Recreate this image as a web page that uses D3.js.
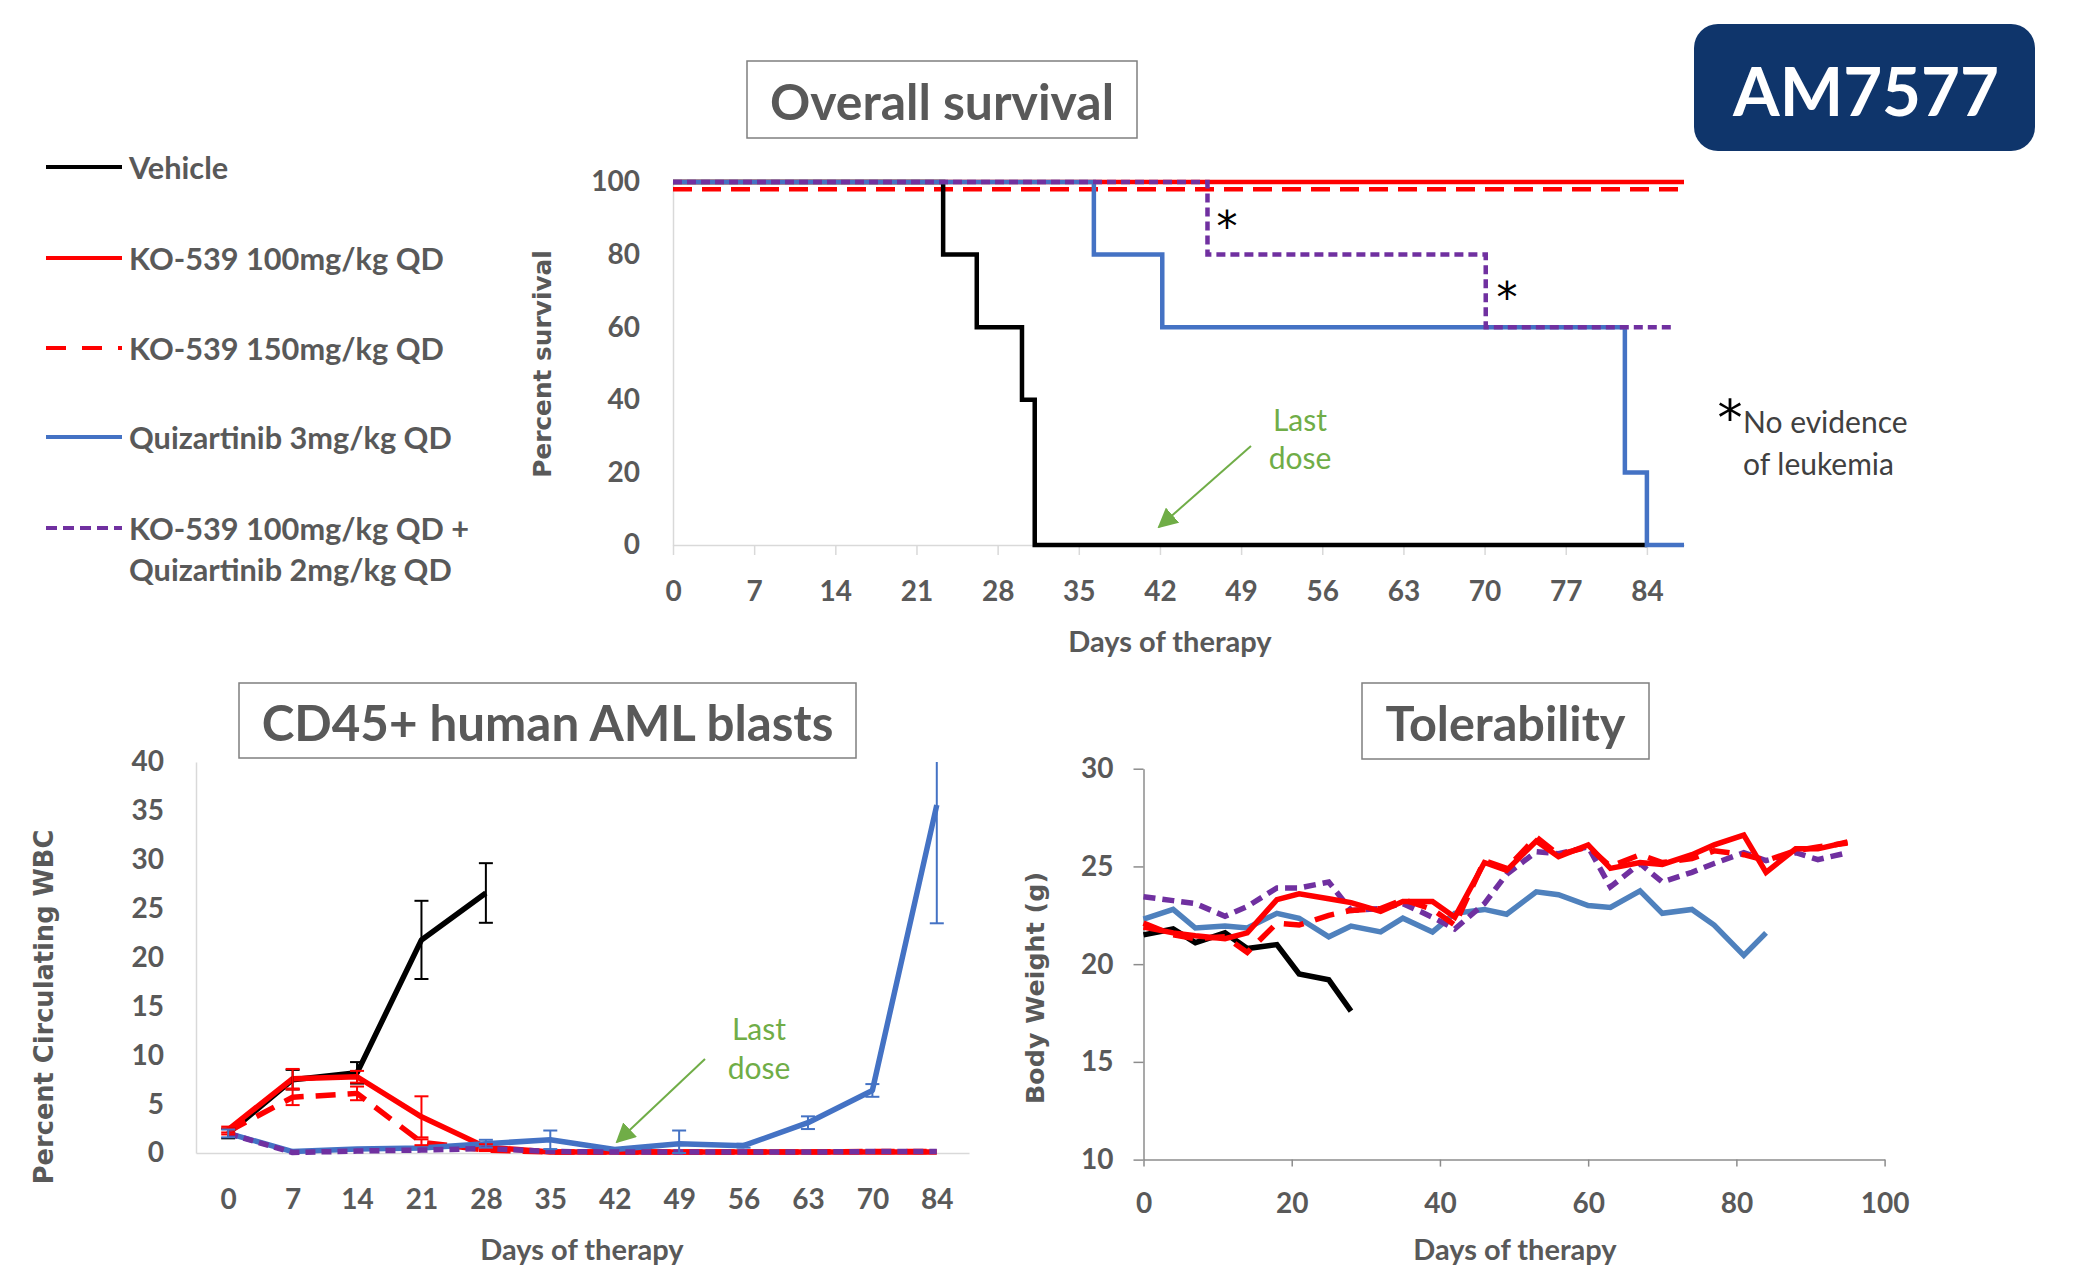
<!DOCTYPE html>
<html lang="en">
<head>
<meta charset="utf-8">
<title>AM7577</title>
<script src="https://cdn.jsdelivr.net/npm/d3@7"></script>
<style>
  body { margin: 0; background: #fff; }
  svg text { font-family: Lato, "Open Sans", sans-serif; fill: #595959; }
  .axis path, .axis line { fill: none; stroke: #d9d9d9; stroke-width: 1.5; }
  .axis.dark path, .axis.dark line { stroke: #8c8c8c; }
  .axis text { font-family: Lato, sans-serif; font-size: 28px; font-weight: bold; fill: #595959; }
  .ylab { font-family: "DejaVu Sans", sans-serif; font-weight: bold; }
  .xlab { font-weight: bold; }
  .title { font-weight: bold; }
  .green { fill: #70ad47; }
  .star { font-family: "DejaVu Sans", sans-serif; fill: #000; }
</style>
</head>
<body>
<script>
var W = 2078, H = 1266;

// series (shared legend)
var seriesNames = ["Vehicle", "KO-539 100mg/kg QD", "KO-539 150mg/kg QD",
                   "Quizartinib 3mg/kg QD", "KO-539 100mg/kg QD +"];
var comboLine2 = "Quizartinib 2mg/kg QD";
var colors = ["#000000", "#ff0000", "#ff0000", "#4472c4", "#7030a0"];

// ---- Overall survival: day of each step and % surviving after it
var survDaysVehicle = [0, 23.3, 26.2, 30.1, 31.2, 84];
var survVehicle     = [100, 80, 60, 40, 0, 0];
var survDaysKO100   = [0, 87.2];
var survKO100       = [100, 100];
var survDaysKO150   = [0, 87.2];
var survKO150       = [98, 98];
var survDaysQuiz    = [0, 36.3, 42.2, 82.1, 84, 87.2];
var survQuiz        = [100, 80, 60, 20, 0, 0];
var survDaysCombo   = [0, 46.1, 70.1, 86.3];
var survCombo       = [100, 80, 60, 60];
var survXTicks = [0, 7, 14, 21, 28, 35, 42, 49, 56, 63, 70, 77, 84];
var survYTicks = [0, 20, 40, 60, 80, 100];

// ---- CD45+ human AML blasts (% circulating WBC), mean and error
var cd45Days = ["0", "7", "14", "21", "28", "35", "42", "49", "56", "63", "70", "84"];
var cd45Vehicle    = [2.0, 7.5, 8.2, 21.8, 26.6];
var cd45VehicleErr = [0.5, 1.0, 1.1, 4.0, 3.05];
var cd45KO100      = [2.4, 7.6, 7.8, 3.7, 0.6, 0.1, 0.1, 0.1, 0.1, 0.1, 0.1, 0.1];
var cd45KO100Err   = [0.3, 1.0, 0.6, 2.1, 0.3, 0, 0, 0, 0, 0, 0, 0];
var cd45KO150      = [2.2, 5.7, 6.1, 1.1, 0.3, 0.1, 0.1, 0.1, 0.1, 0.1, 0.15, 0.15];
var cd45KO150Err   = [0.3, 0.8, 0.7, 0.3, 0.1, 0, 0, 0, 0, 0, 0, 0];
var cd45Quiz       = [2.0, 0.15, 0.4, 0.5, 0.95, 1.35, 0.35, 0.95, 0.75, 3.1, 6.4, 35.6];
var cd45QuizErr    = [0.4, 0, 0, 0, 0.4, 0.95, 0, 1.35, 0.2, 0.65, 0.65, 12.1];
var cd45Combo      = [2.0, 0.05, 0.2, 0.3, 0.45, 0.15, 0.1, 0.1, 0.1, 0.1, 0.15, 0.15];
var cd45ComboErr   = [0, 0, 0, 0, 0, 0, 0, 0, 0, 0, 0, 0];
var cd45YTicks = [0, 5, 10, 15, 20, 25, 30, 35, 40];

// ---- Tolerability: body weight (g)
var tolDays = [0, 4, 7, 11, 14, 18, 21, 25, 28, 32, 35, 39, 42, 46, 49, 53, 56, 60, 63, 67, 70, 74, 77, 81, 84, 88, 91, 95];
var tolVehicle = [21.5, 21.8, 21.1, 21.6, 20.8, 21.0, 19.5, 19.2, 17.6];
var tolKO100 = [21.9, 21.6, 21.45, 21.3, 21.6, 23.3, 23.6, 23.35, 23.15, 22.7, 23.2, 23.2, 22.4, 25.2,
                24.8, 26.3, 25.5, 26.1, 24.9, 25.2, 25.1, 25.6, 26.1, 26.6, 24.7, 25.9, 25.9, 26.25];
var tolKO150 = [22.1, 21.5, 21.3, 21.4, 20.6, 22.1, 22.0, 22.5, 22.75, 22.85, 23.3, 22.8, 22.0, 25.3,
                24.9, 26.5, 25.6, 26.0, 25.0, 25.6, 25.2, 25.4, 25.8, 25.6, 25.3, 25.8, 26.0, 26.2];
var tolQuiz = [22.3, 22.8, 21.85, 21.95, 21.85, 22.6, 22.35, 21.4, 21.95, 21.65, 22.35, 21.65, 22.6, 22.8,
               22.55, 23.7, 23.55, 23.0, 22.9, 23.75, 22.6, 22.8, 22.0, 20.45, 21.6];
var tolCombo = [23.45, 23.25, 23.1, 22.45, 22.95, 23.9, 23.9, 24.2, 22.75, 22.85, 23.1, 22.4, 21.8, 23.1,
                24.6, 25.75, 25.65, 26.0, 23.95, 25.15, 24.2, 24.7, 25.15, 25.7, 25.3, 25.7, 25.35, 25.7];
var tolXTicks = [0, 20, 40, 60, 80, 100];
var tolYTicks = [10, 15, 20, 25, 30];

var svg = d3.select("body").append("svg")
    .attr("width", W).attr("height", H);
svg.append("rect").attr("width", W).attr("height", H).attr("fill", "#fff");

// scale a text's font size so it spans the given width
function fit(sel, width) {
    sel.each(function() {
        var t = d3.select(this);
        var fs = parseFloat(t.style("font-size"));
        t.style("font-size", (fs * width / this.getComputedTextLength()).toFixed(1) + "px");
    });
    return sel;
}

function titleBox(x0, y0, x1, y1, txt, tw) {
    svg.append("rect").attr("x", x0).attr("y", y0).attr("width", x1 - x0).attr("height", y1 - y0)
        .attr("fill", "#fff").attr("stroke", "#7f7f7f").attr("stroke-width", 1.5);
    var t = svg.append("text").attr("class", "title")
        .attr("x", (x0 + x1) / 2).attr("y", (y0 + y1) / 2 + 1)
        .attr("text-anchor", "middle").attr("dominant-baseline", "central")
        .style("font-size", "40px").text(txt);
    fit(t, tw);
}

function vLabel(x, y, txt, len) {
    var t = svg.append("text").attr("class", "ylab")
        .attr("transform", "translate(" + x + "," + y + ") rotate(-90)")
        .attr("text-anchor", "middle").attr("dominant-baseline", "central")
        .style("font-size", "21px").text(txt);
    fit(t, len);
}

function hLabel(x, y, txt) {
    svg.append("text").attr("class", "xlab")
        .attr("x", x).attr("y", y).attr("text-anchor", "middle").attr("dominant-baseline", "central")
        .style("font-size", "29px").text(txt);
}

function star(x, y, size) {
    svg.append("text").attr("class", "star").attr("x", x).attr("y", y)
        .attr("text-anchor", "middle").attr("dominant-baseline", "central")
        .style("font-size", size + "px").text("*");
}

var defs = svg.append("defs");
defs.append("marker").attr("id", "arr").attr("viewBox", "0 0 10 10")
    .attr("refX", 9).attr("refY", 5).attr("markerWidth", 20).attr("markerHeight", 20)
    .attr("markerUnits", "userSpaceOnUse").attr("orient", "auto")
    .append("path").attr("d", "M0,0 L10,5 L0,10 z").attr("fill", "#70ad47");

function lastDose(cx, y1, y2, ax0, ay0, ax1, ay1) {
    svg.append("text").attr("class", "green").attr("x", cx).attr("y", y1)
        .attr("text-anchor", "middle").attr("dominant-baseline", "central")
        .style("font-size", "30px").text("Last");
    svg.append("text").attr("class", "green").attr("x", cx).attr("y", y2)
        .attr("text-anchor", "middle").attr("dominant-baseline", "central")
        .style("font-size", "30px").text("dose");
    svg.append("line").attr("x1", ax0).attr("y1", ay0).attr("x2", ax1).attr("y2", ay1)
        .attr("stroke", "#70ad47").attr("stroke-width", 2)
        .attr("marker-end", "url(#arr)");
}

/////////////////////////////////////////////////
// Legend
/////////////////////////////////////////////////
var legY = [167, 258, 348, 437, 528];
var legDash = [null, null, "20,16", null, "11,6"];
seriesNames.forEach(function(name, i) {
    svg.append("line").attr("x1", 46).attr("x2", 122).attr("y1", legY[i]).attr("y2", legY[i])
        .attr("stroke", colors[i]).attr("stroke-width", 4).attr("stroke-dasharray", legDash[i]);
    svg.append("text").attr("class", "leg").attr("x", 129).attr("y", legY[i])
        .attr("dominant-baseline", "central").text(name);
});
svg.append("text").attr("class", "leg").attr("x", 129).attr("y", 569)
    .attr("dominant-baseline", "central").text(comboLine2);
svg.selectAll(".leg").style("font-size", "28px").style("font-weight", "bold");
var legRef = svg.selectAll(".leg").filter(function(d, i) { return i == 1; });
var legFs = parseFloat(legRef.style("font-size"));
svg.selectAll(".leg").style("font-size", (legFs * 315 / legRef.node().getComputedTextLength()).toFixed(1) + "px");

/////////////////////////////////////////////////
// AM7577 badge
/////////////////////////////////////////////////
svg.append("rect").attr("x", 1694).attr("y", 24).attr("width", 341).attr("height", 127)
    .attr("rx", 24).attr("fill", "#0f356b");
fit(svg.append("text").attr("x", 1866).attr("y", 90).attr("text-anchor", "middle")
    .attr("dominant-baseline", "central").style("font-size", "68px").style("font-weight", "bold")
    .style("fill", "#ffffff").text("AM7577"), 266);

/////////////////////////////////////////////////
// Overall survival
/////////////////////////////////////////////////
titleBox(747, 61, 1137, 138, "Overall survival", 344);

var sx = d3.scaleLinear().domain([0, 87.2]).range([673, 1684]);
var sy = d3.scaleLinear().domain([0, 100]).range([545, 182]);

svg.append("g").attr("class", "axis").attr("transform", "translate(0,545)")
    .call(d3.axisBottom(sx).tickValues(survXTicks).tickSize(10).tickSizeOuter(0).tickPadding(26));
svg.append("g").attr("class", "axis").attr("transform", "translate(673,0)")
    .call(d3.axisLeft(sy).tickValues(survYTicks).tickSize(0).tickPadding(33));

var stepLine = d3.line().curve(d3.curveStepAfter)
    .x(function(d) { return sx(d[0]); }).y(function(d) { return sy(d[1]); });

var survSeries = [
    { days: survDaysKO100, vals: survKO100, c: 1, dash: null },
    { days: survDaysKO150, vals: survKO150, c: 2, dash: "19,10" },
    { days: survDaysVehicle, vals: survVehicle, c: 0, dash: null },
    { days: survDaysQuiz, vals: survQuiz, c: 3, dash: null },
    { days: survDaysCombo, vals: survCombo, c: 4, dash: "9,5" }
];
survSeries.forEach(function(s) {
    svg.append("path").attr("d", stepLine(d3.zip(s.days, s.vals)))
        .attr("fill", "none").attr("stroke", colors[s.c]).attr("stroke-width", 4.5)
        .attr("stroke-dasharray", s.dash);
});

star(1227, 226, 42);
star(1507, 297, 42);

vLabel(542, 364, "Percent survival", 228);
hLabel(1170, 640, "Days of therapy");
lastDose(1300, 419, 457, 1251, 446, 1159, 527);

// footnote
star(1730, 418, 50);
svg.append("text").attr("x", 1743).attr("y", 421).attr("dominant-baseline", "central")
    .style("font-size", "30px").style("fill", "#404040").text("No evidence");
svg.append("text").attr("x", 1743).attr("y", 463).attr("dominant-baseline", "central")
    .style("font-size", "30px").style("fill", "#404040").text("of leukemia");

/////////////////////////////////////////////////
// CD45+ human AML blasts
/////////////////////////////////////////////////
titleBox(239, 683, 856, 758, "CD45+ human AML blasts", 572);

var cx = d3.scalePoint().domain(cd45Days).range([196, 969]).padding(0.5);
var cy = d3.scaleLinear().domain([0, 40]).range([1153, 762]);

svg.append("g").attr("class", "axis").attr("transform", "translate(0,1153)")
    .call(d3.axisBottom(cx).tickSize(0).tickSizeOuter(0).tickPadding(36));
svg.append("g").attr("class", "axis").attr("transform", "translate(196,0)")
    .call(d3.axisLeft(cy).tickValues(cd45YTicks).tickSize(0).tickSizeOuter(0).tickPadding(32));

var cdLine = d3.line().x(function(d) { return cx(d[0]); }).y(function(d) { return cy(d[1]); });

var cdSeries = [
    { vals: cd45Vehicle, err: cd45VehicleErr, c: 0, dash: null },
    { vals: cd45KO100, err: cd45KO100Err, c: 1, dash: null },
    { vals: cd45KO150, err: cd45KO150Err, c: 2, dash: "20,12" },
    { vals: cd45Quiz, err: cd45QuizErr, c: 3, dash: null },
    { vals: cd45Combo, err: cd45ComboErr, c: 4, dash: "10,6" }
];
cdSeries.forEach(function(s) {
    svg.append("path").attr("d", cdLine(d3.zip(cd45Days.slice(0, s.vals.length), s.vals)))
        .attr("fill", "none").attr("stroke", colors[s.c]).attr("stroke-width", 5.5)
        .attr("stroke-linejoin", "round").attr("stroke-dasharray", s.dash);
});
// error bars on top
cdSeries.forEach(function(s) {
    s.vals.forEach(function(v, i) {
        if (s.err[i] <= 0) return;
        var x = cx(cd45Days[i]);
        var top = cy(Math.min(40, v + s.err[i])), bot = cy(Math.max(0, v - s.err[i]));
        var g = svg.append("g").attr("stroke", colors[s.c]).attr("stroke-width", 2);
        g.append("line").attr("x1", x).attr("x2", x).attr("y1", top).attr("y2", bot);
        if (v + s.err[i] < 40)
            g.append("line").attr("x1", x - 7).attr("x2", x + 7).attr("y1", top).attr("y2", top);
        g.append("line").attr("x1", x - 7).attr("x2", x + 7).attr("y1", bot).attr("y2", bot);
    });
});

vLabel(44, 1007, "Percent Circulating  WBC", 355);
hLabel(582, 1248, "Days of therapy");
lastDose(759, 1028, 1067, 705, 1059, 617, 1142);

/////////////////////////////////////////////////
// Tolerability
/////////////////////////////////////////////////
titleBox(1362, 683, 1649, 759, "Tolerability", 240);

var tx = d3.scaleLinear().domain([0, 100]).range([1143.5, 1884.6]);
var ty = d3.scaleLinear().domain([10, 30]).range([1159.6, 768.7]);

svg.append("g").attr("class", "axis dark").attr("transform", "translate(0,1159.6)")
    .call(d3.axisBottom(tx).tickValues(tolXTicks).tickSize(7).tickSizeOuter(0).tickPadding(27));
svg.append("g").attr("class", "axis dark").attr("transform", "translate(1143.5,0)")
    .call(d3.axisLeft(ty).tickValues(tolYTicks).tickSize(10).tickSizeOuter(0).tickPadding(20));

var tLine = d3.line().x(function(d) { return tx(d[0]); }).y(function(d) { return ty(d[1]); });

var tolSeries = [
    { vals: tolVehicle, c: "#000000", dash: null },
    { vals: tolQuiz, c: "#4f81bd", dash: null },
    { vals: tolCombo, c: "#7030a0", dash: "12,7" },
    { vals: tolKO150, c: "#ff0000", dash: "20,12" },
    { vals: tolKO100, c: "#ff0000", dash: null }
];
tolSeries.forEach(function(s) {
    svg.append("path").attr("d", tLine(d3.zip(tolDays.slice(0, s.vals.length), s.vals)))
        .attr("fill", "none").attr("stroke", s.c).attr("stroke-width", 5.5)
        .attr("stroke-dasharray", s.dash);
});

vLabel(1035, 988, "Body Weight (g)", 232);
hLabel(1515, 1248, "Days of therapy");
</script>
</body>
</html>
